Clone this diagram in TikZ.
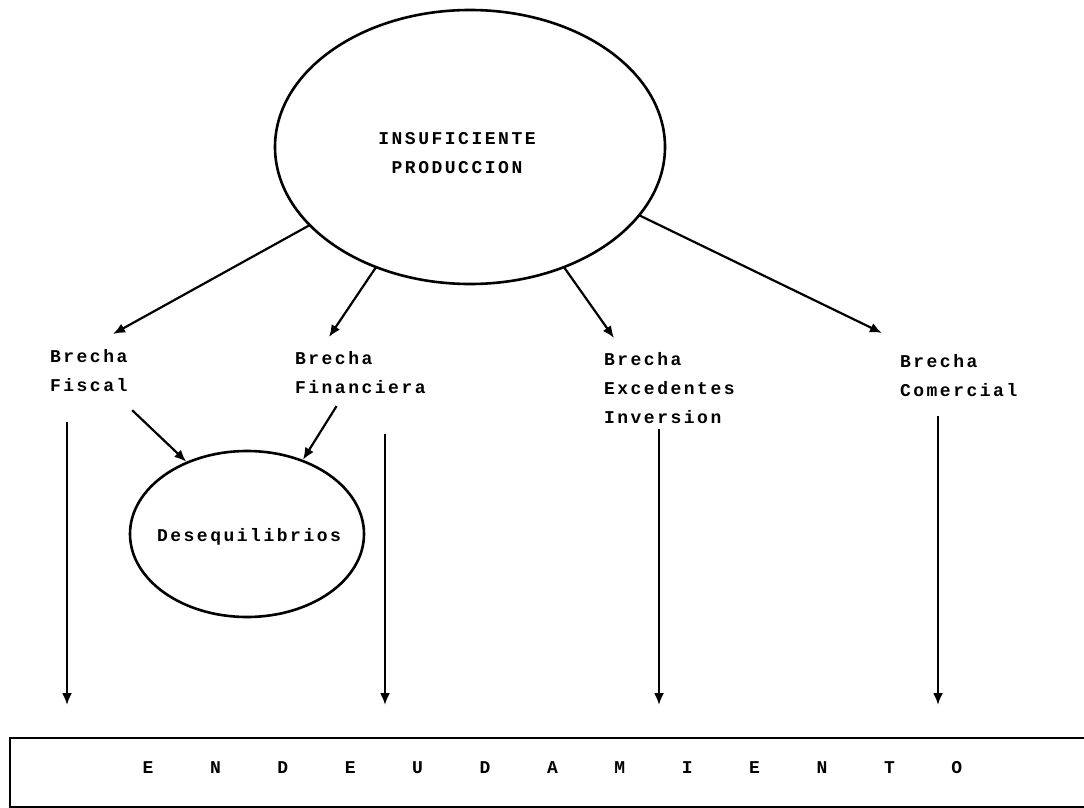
\documentclass[tikz,border=0pt]{standalone}
\usepackage{fontspec}
\setmonofont[LetterSpace=14]{Liberation Mono}
\usetikzlibrary{arrows.meta,shapes.geometric}

\begin{document}
\begin{tikzpicture}[x=1pt,y=-1pt,line cap=rect]
\tikzset{
  typed/.style={font=\ttfamily\bfseries\fontsize{18pt}{29pt}\selectfont, inner sep=0, outer sep=0},
  brecha/.style={typed, align=left, anchor=north west},
  oval/.style={draw, ellipse, line width=2.6pt, inner sep=0},
  arr/.style={line width=2.2pt, -{Latex[length=12pt,width=10pt]}}
}
\clip (0,0) rectangle (1084,808);
% causa central
\node[oval, minimum width=390, minimum height=274] (insuf) at (470,147) {};
\node[typed, align=center] (insuftxt) at (457,153) {INSUFICIENTE\\PRODUCCION};
% brechas
\node[brecha] (fiscal) at (50,349) {Brecha\\Fiscal};
\node[brecha] (financ) at (295,351) {Brecha\\Financiera};
\node[brecha] (exced) at (604,352) {Brecha\\Excedentes\\Inversion};
\node[brecha] (comer) at (900,354) {Brecha\\Comercial};
\node[oval, minimum width=234, minimum height=166] (deseq) at (247,534) {};
\node[typed] (deseqtxt) at (249,537) {Desequilibrios};
% resultado
\node[draw, line width=2pt, anchor=north west, minimum width=1091, minimum height=69] (endeud) at (9,737) {};
\foreach \l [count=\i from 0] in {E,N,D,E,U,D,A,M,I,E,N,T,O}
  \node[typed] (let\i) at (148+67.4*\i,768) {\l};
% puntas libres
\coordinate (tfis) at (113,334);
\coordinate (tfin) at (329,337);
\coordinate (texc) at (614,338);
\coordinate (tcom) at (882,333);
\coordinate (sfd) at (133,411);
\coordinate (snd) at (336,407);
\coordinate (ebox) at ([yshift=32pt]endeud.north);
\draw[arr] (insuf.206) -- (tfis);
\draw[arr] (insuf.232) -- (tfin);
\draw[arr] (insuf.308) -- (texc);
\draw[arr] (insuf.338) -- (tcom);
\draw[arr] (sfd) -- (deseq.130);
\draw[arr] (snd) -- (deseq.53);
\foreach \n/\x/\y in {vf/67/423, vn/385/435, ve/659/430, vc/938/417} {
  \coordinate (\n) at (\x,\y);
  \draw[arr] (\n) -- (ebox -| \n);
}
\end{tikzpicture}
\end{document}
